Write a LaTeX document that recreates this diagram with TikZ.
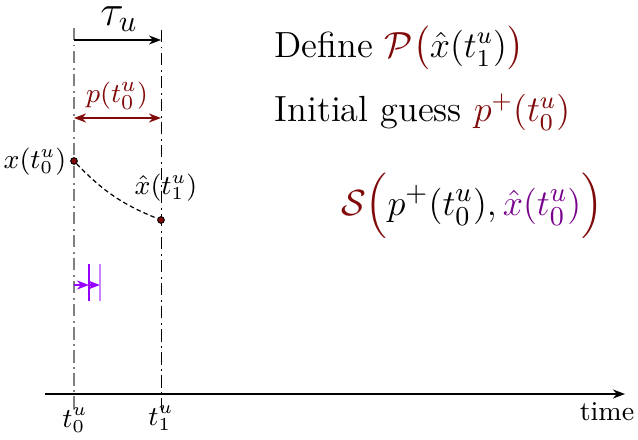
\documentclass[tikz,border=0pt]{standalone}
\usepackage{amsmath}
\usetikzlibrary{arrows.meta}
\definecolor{dred}{RGB}{128,10,10}
\definecolor{dpurple}{RGB}{120,0,140}
\definecolor{vio}{RGB}{150,0,255}
\definecolor{lvio}{RGB}{200,130,255}
\begin{document}
\begin{tikzpicture}[x=0.33pt,y=-0.33pt,
  vline/.style={dash pattern=on 4pt off 1.5pt on 0.6pt off 1.5pt, line width=0.3pt},
  pt/.style={circle, fill=dred, draw=black, line width=0.3pt, inner sep=0pt, minimum size=2.2pt},
  lbl/.style={inner sep=1pt, font=\fontsize{9}{11}\selectfont},
  tip/.style={-{Stealth[length=4pt,width=3pt]}}]
\useasboundingbox (0,0) rectangle (638,439);
% vertical guide lines
\coordinate (a0) at (74,28);
\coordinate (a1) at (74,410);
\coordinate (b0) at (161,30);
\coordinate (b1) at (161,410);
\draw[vline, gray, line width=0.45pt] (a0) -- (a1);
\draw[vline, black] (b0) -- (b1);
% time axis
\coordinate (ax0) at (45,394);
\coordinate (ax1) at (625,394);
\draw[tip, line width=0.5pt] (ax0) -- (ax1);
\node[lbl] (time) at (607,412) {time};
\node[lbl] (t0) at (75,420) {$t_0^u$};
\node[lbl] (t1) at (161,418) {$t_1^u$};
% tau arrow
\coordinate (ta) at (74,40);
\coordinate (tb) at (161,40);
\draw[tip, line width=0.5pt] (ta) -- (tb);
\node[lbl, font=\fontsize{14}{16}\selectfont] (tau) at (119,19) {$\tau_u$};
% p arrow
\coordinate (pa) at (74,118);
\coordinate (pb) at (161,118);
\draw[{Stealth[length=4pt,width=3pt]}-{Stealth[length=4pt,width=3pt]}, dred, line width=0.5pt] (pa) -- (pb);
\node[lbl, text=dred, font=\fontsize{9.5}{11}\selectfont] (plab) at (117,96) {$p(t_0^u)$};
% points
\node[pt] (x0) at (74,161) {};
\node[pt] (x1) at (161,220) {};
\node[lbl, anchor=east] (x0l) at (70,162) {$x(t_0^u)$};
\node[lbl] (x1l) at (166,188) {$\hat{x}(t_1^u)$};
\draw[dash pattern=on 1.5pt off 1pt, line width=0.4pt] (x0) to[bend right=12] (x1);
% purple markers
\coordinate (m0) at (74,285);
\coordinate (m1) at (89,285);
\coordinate (m2) at (100,285);
\coordinate (v1a) at (89,264);
\coordinate (v1b) at (89,301);
\coordinate (v2a) at (100,264);
\coordinate (v2b) at (100,301);
\draw[tip, vio, line width=0.5pt] (m0) -- (m1);
\draw[tip, vio, line width=0.5pt] (m1) -- (m2);
\draw[vio, line width=0.6pt] (v1a) -- (v1b);
\draw[lvio, line width=0.8pt] (v2a) -- (v2b);
% texts
\node[lbl, anchor=west, font=\fontsize{12}{14}\selectfont] (def) at (271,48) {Define $\color{dred}\mathcal{P}\big(\color{black}\hat{x}(t_1^u)\color{dred}\big)$};
\node[lbl, anchor=west, font=\fontsize{12}{14}\selectfont] (ini) at (271,112) {Initial guess $\color{dred}p^+(t_0^u)$};
\node[lbl, font=\fontsize{12.9}{15}\selectfont] (S) at (472,206) {$\color{dred}\mathcal{S}\Big(\color{black}p^+(t_0^u),\color{dpurple}\hat{x}(t_0^u)\color{dred}\Big)$};
\end{tikzpicture}
\end{document}
